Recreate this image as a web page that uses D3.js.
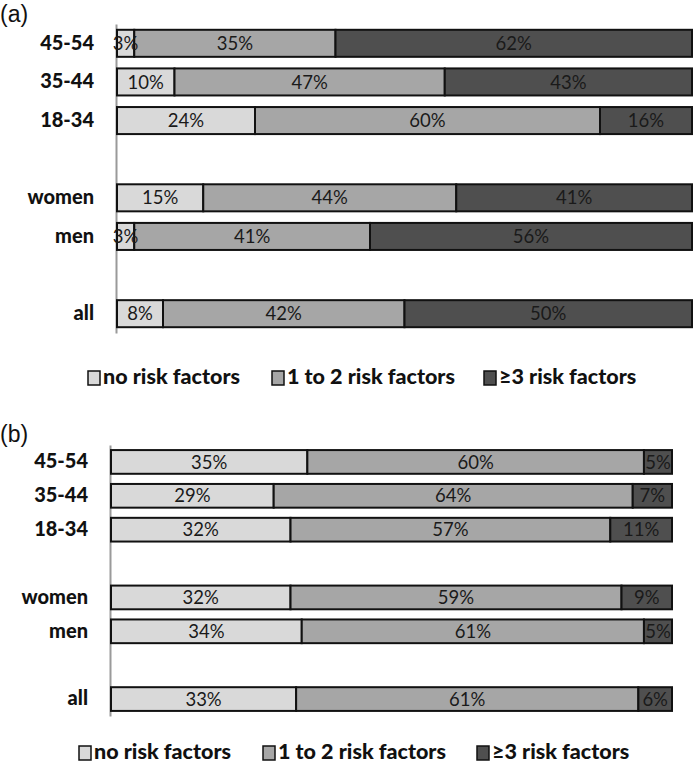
<!DOCTYPE html>
<html><head><meta charset="utf-8">
<script src="https://cdn.jsdelivr.net/npm/d3@7"></script>
<style>body{margin:0;background:#fff}</style>
</head><body>
<script>
const categories = ["45-54","35-44","18-34","","women","men"," ","all"];
const seriesNames = ["no risk factors","1 to 2 risk factors","≥3 risk factors"];
const colors = ["#d9d9d9","#a6a6a6","#4f4f4f"];
const aNone  = [3,10,24,null,15,3,null,8];
const aOne2  = [35,47,60,null,44,41,null,42];
const aThree = [62,43,16,null,41,56,null,50];
const bNone  = [35,29,32,null,32,34,null,33];
const bOne2  = [60,64,57,null,59,61,null,61];
const bThree = [5,7,11,null,9,5,null,6];

const svg = d3.select("body").append("svg").attr("width",696).attr("height",766);

function panel(cfg){
  const {label,labelY,x0,x1,y0,y1,data,legendY,legendX}=cfg;
  svg.append("text").attr("x",0).attr("y",labelY).text(label)
    .attr("font-family","Liberation Sans, Arial, sans-serif").attr("font-size",23).attr("fill","#111");
  const x=d3.scaleLinear().domain([0,100]).range([x0,x1]);
  const y=d3.scaleBand().domain(categories).range([y0,y1]).paddingInner(0.3).paddingOuter(0.15);
  const yAxis=d3.axisLeft(y).tickSize(0).tickPadding(22);
  const ag=svg.append("g").attr("transform",`translate(${x0-1},0)`).call(yAxis);
  ag.select(".domain").attr("stroke","#9a9a9a").attr("stroke-width",2);
  ag.selectAll("text").attr("font-family","Lato, sans-serif").attr("font-weight","900")
    .attr("font-size",20).attr("fill","#111");
  const rows=categories.map((c,i)=>({c,vals:[data[0][i],data[1][i],data[2][i]]})).filter(r=>r.vals[0]!==null);
  const g=svg.append("g"), tg=svg.append("g");
  rows.forEach(r=>{
    let cum=0;
    r.vals.forEach((v,k)=>{
      const xs=x(cum), xe=x(cum+v);
      g.append("rect").attr("x",xs).attr("y",y(r.c)).attr("width",xe-xs).attr("height",y.bandwidth())
        .attr("fill",colors[k]).attr("stroke","#111").attr("stroke-width",2);
      tg.append("text").attr("x",(xs+xe)/2).attr("y",y(r.c)+y.bandwidth()/2).attr("dy","0.36em")
        .attr("text-anchor","middle").attr("font-family","Lato, sans-serif").attr("font-size",18.5)
        .attr("fill","#1a1a1a").text(v+"%");
      cum+=v;
    });
  });
  const lg=svg.append("g");
  legendX.forEach((px,k)=>{
    lg.append("rect").attr("x",px).attr("y",legendY-13).attr("width",12).attr("height",14)
      .attr("fill",colors[k]).attr("stroke","#111").attr("stroke-width",1.5);
    lg.append("text").attr("x",px+15).attr("y",legendY).text(seriesNames[k])
      .attr("font-family","Lato, sans-serif").attr("font-weight","900").attr("font-size",21.5).attr("fill","#111");
  });
}
panel({label:"(a)",labelY:22,x0:117,x1:692,y0:24,y1:333,data:[aNone,aOne2,aThree],legendY:384,legendX:[88,272,484]});
panel({label:"(b)",labelY:442,x0:111,x1:672,y0:445,y1:716,data:[bNone,bOne2,bThree],legendY:759,legendX:[79,263,477]});
</script>
</body></html>
